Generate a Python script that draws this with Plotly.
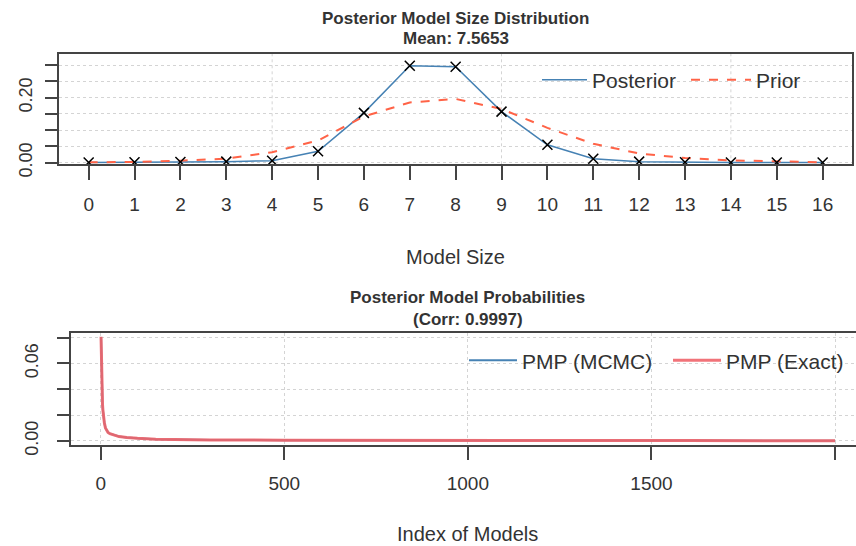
import plotly.graph_objects as go

# ---------------- data ----------------
model_size = list(range(17))
posterior = [0.0005, 0.001, 0.002, 0.003, 0.006, 0.035, 0.153, 0.298, 0.295,
             0.157, 0.055, 0.012, 0.003, 0.001, 0.0005, 0.0003, 0.0001]
prior = [0.001, 0.002, 0.006, 0.012, 0.032, 0.068, 0.142, 0.185, 0.196,
         0.165, 0.107, 0.058, 0.028, 0.014, 0.007, 0.003, 0.001]

pmp_index = [1, 2, 3, 4, 5, 6, 8, 10, 13, 16, 20, 25, 34, 50, 71, 100, 150,
             200, 300, 500, 800, 1200, 1600, 2000]
pmp_exact = [0.0807, 0.060, 0.045, 0.035, 0.028, 0.024, 0.018, 0.014, 0.010,
             0.008, 0.0065, 0.0055, 0.0045, 0.0033, 0.0026, 0.0019, 0.0013,
             0.0010, 0.0007, 0.0005, 0.0003, 0.0002, 0.00015, 0.0001]
pmp_mcmc = [0.0805, 0.061, 0.045, 0.035, 0.028, 0.024, 0.018, 0.014, 0.010,
            0.008, 0.0066, 0.0055, 0.0045, 0.0033, 0.0026, 0.0019, 0.0013,
            0.0010, 0.0007, 0.0005, 0.0003, 0.0002, 0.00015, 0.0001]

top_yticks = [0.00, 0.05, 0.10, 0.15, 0.20, 0.25, 0.30]
top_yticktext = ["0.00", "", "", "", "0.20", "", ""]
bot_yticks = [0.00, 0.02, 0.04, 0.06, 0.08]
bot_yticktext = ["0.00", "", "", "0.06", ""]
bot_xticks = [0, 500, 1000, 1500, 2000]
top_vgrid = [4, 9, 14]

title1 = ["Posterior Model Size Distribution", "Mean: 7.5653"]
title2 = ["Posterior Model Probabilities", "(Corr: 0.9997)"]

# ---------------- styles ----------------
W, H = 856, 546
HF = 560          # figure height (page is photographed slightly taller than 546)
FONT = "Liberation Sans, Arial, sans-serif"
TXT = "#333333"
AX = "#444444"
GRID = "#d4d4d4"
BLUE = "#4682B4"
RED = "#F0646A"
TOMATO = "#FF6347"

def px(x):
    return x / W

def py(y):
    return (H - y) / H

fig = go.Figure()

fig.add_trace(go.Scatter(x=model_size, y=posterior, mode="lines", name="Posterior",
                         line=dict(color=BLUE, width=1.5), xaxis="x", yaxis="y",
                         legend="legend"))
fig.add_trace(go.Scatter(x=model_size, y=prior, mode="lines", name="Prior",
                         line=dict(color=TOMATO, width=2, dash="dash"), xaxis="x", yaxis="y",
                         legend="legend2"))
fig.add_trace(go.Scatter(x=model_size, y=posterior, mode="markers", showlegend=False,
                         marker=dict(symbol="x-thin", size=10, color="black",
                                     line=dict(color="black", width=1.5)),
                         xaxis="x", yaxis="y"))

fig.add_trace(go.Scatter(x=pmp_index, y=pmp_mcmc, mode="lines", name="PMP (MCMC)",
                         line=dict(color=BLUE, width=2), xaxis="x2", yaxis="y2",
                         legend="legend3"))
fig.add_trace(go.Scatter(x=pmp_index, y=pmp_exact, mode="lines", name="PMP (Exact)",
                         line=dict(color=RED, width=3), opacity=0.9, xaxis="x2", yaxis="y2",
                         legend="legend4"))

axis_common = dict(showline=True, linecolor=AX, linewidth=2, ticks="outside",
                   tickcolor=AX, tickwidth=2, zeroline=False,
                   tickfont=dict(family=FONT, size=19, color=TXT))

fig.update_layout(
    width=W, height=HF, margin=dict(l=0, r=0, t=0, b=0),
    paper_bgcolor="white", plot_bgcolor="white",
    xaxis=dict(axis_common, domain=[px(59.3), px(852)], range=[-0.64, 16.64],
               tickvals=model_size, ticklen=14, mirror=True, showgrid=False,
               anchor="y", ticklabelstandoff=8),
    yaxis=dict(axis_common, domain=[py(164), py(53.5)], range=[-0.0052, 0.3355],
               tickvals=top_yticks, ticktext=top_yticktext, ticklen=12, mirror=True,
               tickangle=-90, showgrid=True, gridcolor=GRID, griddash="dot", gridwidth=1,
               anchor="x", tickfont=dict(family=FONT, size=18, color=TXT),
               ticklabelstandoff=6),
    xaxis2=dict(axis_common, domain=[px(71.3), 1.0], range=[-80, 2057],
                tickvals=bot_xticks, ticklen=13, mirror=True, showgrid=True,
                gridcolor=GRID, griddash="dot", gridwidth=1, anchor="y2",
                ticklabelstandoff=7),
    yaxis2=dict(axis_common, domain=[py(444), py(332)], range=[-0.0031, 0.0839],
                tickvals=bot_yticks, ticktext=bot_yticktext, ticklen=12, mirror=False,
                tickangle=-90, showgrid=True, gridcolor=GRID, griddash="dot", gridwidth=1,
                anchor="x2", tickfont=dict(family=FONT, size=18, color=TXT),
                ticklabelstandoff=12),
    showlegend=True,
)

leg_common = dict(orientation="h", xanchor="left", yanchor="middle",
                  bgcolor="rgba(0,0,0,0)", borderwidth=0,
                  font=dict(family=FONT, size=21, color=TXT))
fig.update_layout(
    legend=dict(leg_common, x=px(537), y=py(80), itemwidth=45),
    legend2=dict(leg_common, x=px(686), y=py(80), itemwidth=60),
    legend3=dict(leg_common, x=px(464), y=py(360), itemwidth=48),
    legend4=dict(leg_common, x=px(668), y=py(360), itemwidth=48),
)

for gx in top_vgrid:
    fig.add_shape(type="line", xref="x", yref="y domain", x0=gx, x1=gx, y0=0, y1=1,
                  line=dict(color=GRID, width=1, dash="dot"), layer="below")

ann = []
cx1 = px((59.3 + 852) / 2)
cx2 = px((71.3 + 864) / 2)
ann.append(dict(text="<b>%s</b>" % title1[0], x=cx1, y=py(18)))
ann.append(dict(text="<b>%s</b>" % title1[1], x=cx1, y=py(38)))
ann.append(dict(text="<b>%s</b>" % title2[0], x=cx2, y=py(297)))
ann.append(dict(text="<b>%s</b>" % title2[1], x=cx2, y=py(319)))
for a in ann:
    a.update(xref="paper", yref="paper", showarrow=False, xanchor="center",
             yanchor="middle", font=dict(family=FONT, size=17, color=TXT))
    fig.add_annotation(**a)
fig.add_annotation(text="Model Size", x=cx1, y=py(257), xref="paper", yref="paper",
                   showarrow=False, xanchor="center", yanchor="middle",
                   font=dict(family=FONT, size=20, color=TXT))
fig.add_annotation(text="Index of Models", x=cx2, y=py(533), xref="paper", yref="paper",
                   showarrow=False, xanchor="center", yanchor="middle",
                   font=dict(family=FONT, size=20, color=TXT))

post = (
    "document.documentElement.style.margin='0';"
    "document.body.style.margin='0';"
    "document.body.style.overflow='hidden';"
)

fig.write_html("out.html", config={"displayModeBar": False}, post_script=post)
